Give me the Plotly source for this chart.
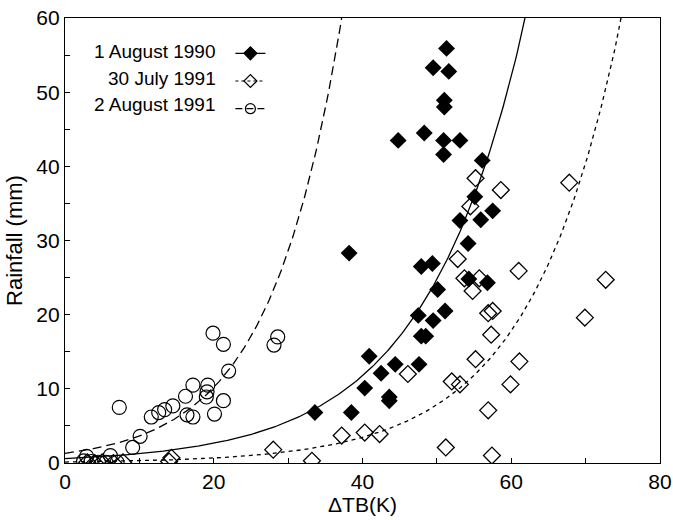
import numpy as np
import plotly.graph_objects as go

# --- data ---
# 1 August 1990 (filled diamonds)
aug90_tb = [51.3, 49.5, 51.6, 51.0, 51.0, 44.8, 48.3, 50.9, 53.1, 50.9, 56.1, 55.1,
            53.1, 55.9, 57.5, 54.2, 38.2, 47.9, 49.4, 50.1, 54.3, 56.8, 47.5, 51.1,
            49.5, 47.9, 48.5, 40.9, 44.4, 47.6, 42.5, 40.3, 43.6, 43.6, 33.6, 38.5]
aug90_rain = [55.9, 53.3, 52.8, 48.9, 48.0, 43.5, 44.5, 43.5, 43.5, 41.6, 40.8, 35.9,
              32.7, 32.8, 34.0, 29.6, 28.3, 26.5, 26.9, 23.4, 24.8, 24.3, 19.9, 20.5,
              19.2, 17.1, 17.1, 14.4, 13.3, 13.3, 12.1, 10.1, 8.9, 8.4, 6.8, 6.8]

# 30 July 1991 (open diamonds)
jul91_tb = [55.2, 58.6, 54.5, 52.8, 61.0, 53.7, 55.7, 54.8, 56.9, 57.5, 57.3, 55.2,
            61.1, 46.1, 52.0, 53.1, 59.9, 56.9, 37.2, 40.3, 42.3, 51.2, 57.4, 33.2,
            67.8, 72.7, 69.9, 28.0, 14.3, 14.0, 3.0, 4.0, 5.0, 6.5, 7.8]
jul91_rain = [38.4, 36.8, 34.6, 27.5, 25.9, 24.9, 24.9, 23.2, 20.2, 20.5, 17.3, 14.0,
              13.7, 12.0, 11.0, 10.6, 10.6, 7.1, 3.7, 4.1, 3.9, 2.1, 1.0, 0.3,
              37.8, 24.7, 19.6, 1.8, 0.7, 0.2, 0.1, 0.0, 0.1, 0.0, 0.1]

# 2 August 1991 (open circles)
aug91_tb = [19.9, 21.3, 28.6, 28.1, 22.0, 7.3, 17.2, 19.2, 19.1, 19.0, 16.2, 21.3,
            14.5, 13.4, 12.6, 11.6, 16.4, 17.2, 20.1, 10.1, 9.1, 2.9, 6.1,
            2.5, 3.5, 4.5, 5.5, 7.0]
aug91_rain = [17.5, 16.0, 17.0, 15.9, 12.4, 7.5, 10.5, 10.5, 9.6, 8.9, 9.0, 8.4,
              7.7, 7.2, 6.8, 6.2, 6.5, 6.2, 6.6, 3.6, 2.1, 0.9, 1.0,
              0.3, 0.2, 0.1, 0.1, 0.1]

# exponential fits  R = a * exp(b * dTB), coefficients
fit_aug90 = (0.6, 0.0744)
fit_jul91 = (0.13, 0.082)
fit_aug91 = (1.3, 0.103)

labels = ["1 August 1990", "30 July 1991", "2 August 1991"]

FONT = "Liberation Sans, Arial, sans-serif"
tb = np.linspace(0, 80, 400)

fig = go.Figure()

# fitted curves
curve_styles = [
    (fit_aug90, "solid"),
    (fit_jul91, "4px,4px"),
    (fit_aug91, "9px,5px"),
]
for (a, b), dash in curve_styles:
    fig.add_trace(go.Scatter(x=tb, y=a * np.exp(b * tb), mode="lines",
                             line=dict(color="black", width=1.3, dash=dash),
                             showlegend=False, hoverinfo="skip"))

# scatter points
fig.add_trace(go.Scatter(x=aug90_tb, y=aug90_rain, mode="markers", name=labels[0],
                         marker=dict(symbol="diamond", size=13, color="black"),
                         showlegend=False))
fig.add_trace(go.Scatter(x=jul91_tb, y=jul91_rain, mode="markers", name=labels[1],
                         marker=dict(symbol="diamond-open", size=13, color="black",
                                     line=dict(width=1.3)),
                         showlegend=False))
fig.add_trace(go.Scatter(x=aug91_tb, y=aug91_rain, mode="markers", name=labels[2],
                         marker=dict(symbol="circle-open", size=14, color="black",
                                     line=dict(width=1.2)),
                         showlegend=False))

# legend-only entries (line + marker together)
legend_styles = [
    ("diamond", "solid", 10),
    ("diamond-open", "3px,3px", 10),
    ("circle-open", "7px,4px", 10),
]
for lab, (sym, dash, sz) in zip(labels, legend_styles):
    fig.add_trace(go.Scatter(x=[None], y=[None], mode="lines+markers", name=lab,
                             legendgroup=lab,
                             line=dict(color="black", width=1.2, dash=dash),
                             marker=dict(symbol=sym, size=sz, color="black",
                                         line=dict(width=1.2, color="black"))))

# legend labels sit left of the symbols, as in the original
for i, lab in enumerate(labels):
    fig.add_annotation(text=lab, xref="paper", yref="paper", x=0.257,
                       y=0.924 - i * 0.059, xanchor="right", yanchor="middle",
                       showarrow=False, font=dict(family=FONT, size=19, color="black"))

axis_common = dict(showline=True, linecolor="black", linewidth=1.2, mirror=True,
                   ticks="inside", ticklen=5, tickcolor="black", showgrid=False,
                   zeroline=False, automargin=False,
                   tickfont=dict(family=FONT, size=21, color="black"))

fig.update_xaxes(range=[0, 80], dtick=20, tick0=0,
                 minor=dict(dtick=10, ticks="inside", ticklen=5, tickcolor="black"),
                 title=dict(text="ΔTB(K)", font=dict(family=FONT, size=21, color="black"),
                            standoff=4),
                 **axis_common)
fig.update_yaxes(range=[0, 60], dtick=10, tick0=0,
                 minor=dict(dtick=5, ticks="inside", ticklen=5, tickcolor="black"),
                 title=dict(text="Rainfall (mm)", font=dict(family=FONT, size=22, color="black"),
                            standoff=7),
                 **axis_common)

fig.update_layout(
    width=673, height=520,
    margin=dict(l=65, r=13, t=18, b=57),
    paper_bgcolor="white", plot_bgcolor="white",
    showlegend=True,
    legend=dict(x=0.278, y=0.963, xanchor="left", yanchor="top",
                bgcolor="rgba(0,0,0,0)", tracegroupgap=0,
                font=dict(family=FONT, size=19, color="rgba(0,0,0,0)")),
)

# drop the page's default 8px body margin so the figure sits at the window corner
fig.write_html("out.html", config={"displayModeBar": False},
               post_script="document.body.style.margin='0';")
